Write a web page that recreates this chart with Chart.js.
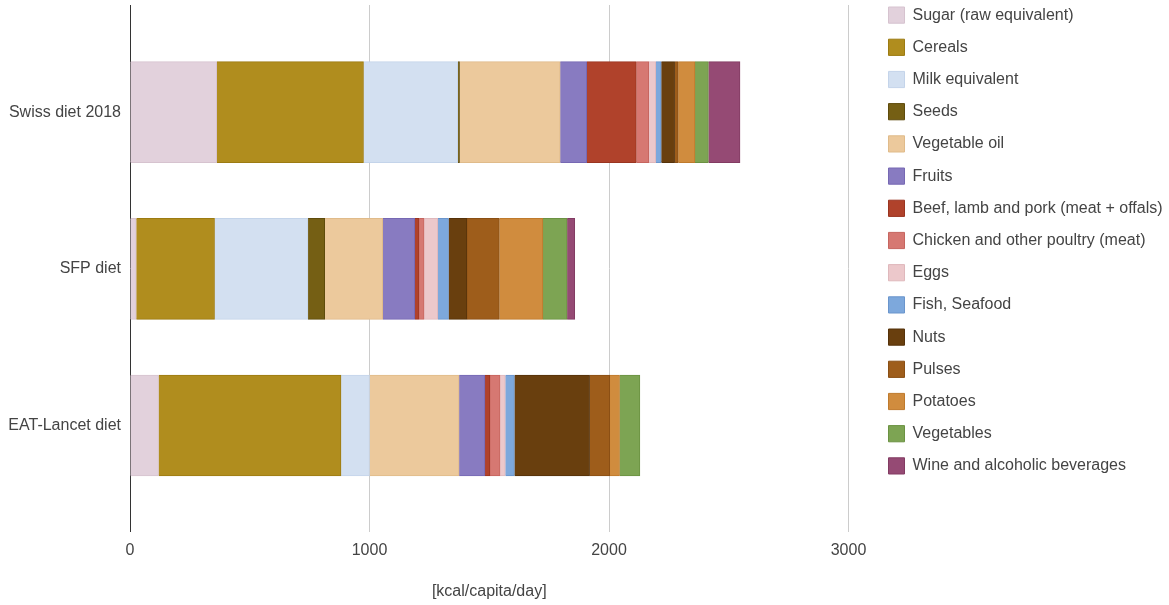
<!DOCTYPE html>
<html>
<head>
<meta charset="utf-8">
<script src="https://cdn.jsdelivr.net/npm/chart.js@4/dist/chart.umd.min.js"></script>
<style>
  html, body { margin: 0; padding: 0; background: #fff; }
  #wrap { width: 1169px; height: 605px; position: relative; }
</style>
</head>
<body>
<div id="wrap"><canvas id="chart"></canvas></div>
<script>
// diets on the vertical axis
var diets = ["Swiss diet 2018", "SFP diet", "EAT-Lancet diet"];
var xTicks = [0, 1000, 2000, 3000];

// kcal/capita/day per food group, same order as diets
var sugar = [362, 26, 119];
var cereals = [613, 327, 762];
var milk = [394, 390, 119];
var seeds = [7, 70, 0];
var vegOil = [420, 242, 374];
var fruits = [111, 134, 108];
var beef = [207, 18, 21];
var chicken = [52, 21, 42];
var eggs = [29, 57, 22];
var fish = [23, 45, 38];
var nuts = [56, 77, 314];
var pulses = [15, 135, 84];
var potatoes = [70, 182, 41];
var vegetables = [56, 101, 85];
var wine = [132, 32, 0];

var groups = [
  ["Sugar (raw equivalent)", sugar, "#e2d1dc", "#d6c3cf"],
  ["Cereals", cereals, "#b08d1e", "#9c7b12"],
  ["Milk equivalent", milk, "#d3e0f1", "#c4d4ea"],
  ["Seeds", seeds, "#755f14", "#5e4b0c"],
  ["Vegetable oil", vegOil, "#ecc99c", "#e0bb8a"],
  ["Fruits", fruits, "#887bc1", "#7668b3"],
  ["Beef, lamb and pork (meat + offals)", beef, "#b0422b", "#9a3420"],
  ["Chicken and other poultry (meat)", chicken, "#d67872", "#c6655f"],
  ["Eggs", eggs, "#ecc8cb", "#dfb8bc"],
  ["Fish, Seafood", fish, "#7da8dc", "#6a95cc"],
  ["Nuts", nuts, "#693f0e", "#55320a"],
  ["Pulses", pulses, "#9e5d1b", "#8a4f14"],
  ["Potatoes", potatoes, "#d08c3e", "#bf7a2c"],
  ["Vegetables", vegetables, "#7da453", "#6b9242"],
  ["Wine and alcoholic beverages", wine, "#954a74", "#823b62"]
];

var datasets = groups.map(function (g) {
  return {
    label: g[0],
    data: g[1].map(function (v, i) { return { x: v, y: i }; }),
    backgroundColor: g[2],
    borderColor: g[3],
    borderWidth: 1,
    barThickness: 101
  };
});

var font = { family: "'Liberation Sans', Arial, sans-serif", size: 16 };

// nudge the legend to where the original puts it
var legendShift = {
  id: "legendShift",
  afterLayout: function (chart) {
    var lg = chart.legend;
    lg.left += 24;
    lg.right = chart.width;
    lg.width = lg.right - lg.left;
    lg.top -= 14; lg.bottom -= 14;
  }
};

new Chart(document.getElementById("chart"), {
  type: "bar",
  data: { datasets: datasets },
  plugins: [legendShift],
  options: {
    indexAxis: "y",
    responsive: true,
    maintainAspectRatio: false,
    animation: false,
    layout: { padding: { top: 5, right: 39, bottom: 0, left: 4 } },
    scales: {
      x: {
        type: "linear",
        stacked: true,
        min: 0,
        max: 3000,
        afterBuildTicks: function (axis) {
          axis.ticks = xTicks.map(function (v) { return { value: v }; });
        },
        border: { display: false },
        grid: {
          drawTicks: false,
          color: function (ctx) { return ctx.tick && ctx.tick.value === 0 ? "#333333" : "#cccccc"; },
          lineWidth: 1
        },
        ticks: {
          padding: 9,
          color: "#444",
          font: font,
          callback: function (v) { return String(v); }
        },
        title: {
          display: true,
          text: "[kcal/capita/day]",
          color: "#444",
          font: font,
          padding: { top: 13, bottom: 4 }
        }
      },
      y: {
        type: "linear",
        stacked: true,
        reverse: true,
        offset: false,
        min: -0.684,
        max: 2.677,
        afterBuildTicks: function (axis) {
          axis.ticks = diets.map(function (d, i) { return { value: i }; });
        },
        afterFit: function (axis) {
          axis.width = 126;
          axis.paddingTop = 0;
          axis.paddingBottom = 0;
        },
        border: { display: false },
        grid: { display: false, drawTicks: false },
        ticks: {
          padding: 9,
          color: "#444",
          font: font,
          callback: function (v) { return diets[v] || ""; }
        }
      }
    },
    plugins: {
      legend: {
        position: "right",
        align: "start",
        labels: {
          boxWidth: 16,
          boxHeight: 16.2,
          padding: 16,
          color: "#444",
          font: font
        }
      },
      tooltip: { enabled: false }
    }
  }
});
</script>
</body>
</html>
